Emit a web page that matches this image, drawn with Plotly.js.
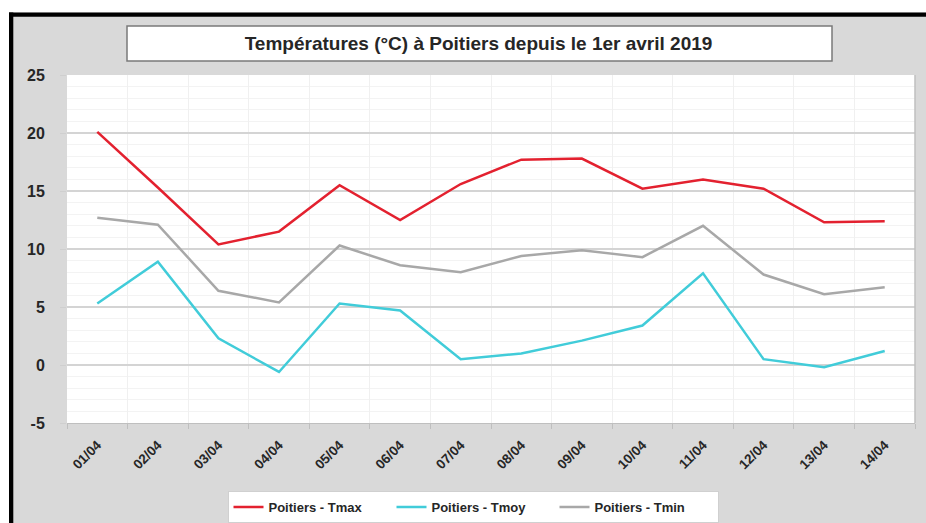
<!DOCTYPE html>
<html>
<head>
<meta charset="utf-8">
<script src="https://cdn.plot.ly/plotly-3.0.1.min.js"></script>
<style>html,body{margin:0;padding:0;background:#fff;}#chart{width:926px;height:523px;}</style>
</head>
<body>
<div id="chart"></div>
<script>
const dates = ['01/04','02/04','03/04','04/04','05/04','06/04','07/04','08/04','09/04','10/04','11/04','12/04','13/04','14/04'];
const tmax = [20.1, 15.3, 10.4, 11.5, 15.5, 12.5, 15.6, 17.7, 17.8, 15.2, 16.0, 15.2, 12.3, 12.4];
const tmoy = [5.3, 8.9, 2.3, -0.6, 5.3, 4.7, 0.5, 1.0, 2.1, 3.4, 7.9, 0.5, -0.2, 1.2];
const tmin = [12.7, 12.1, 6.4, 5.4, 10.3, 8.6, 8.0, 9.4, 9.9, 9.3, 12.0, 7.8, 6.1, 6.7];
const seriesNames = ['Poitiers - Tmax', 'Poitiers - Tmoy', 'Poitiers - Tmin'];
const yTickVals = [-5, 0, 5, 10, 15, 20, 25];
const yTickText = ['-5', '0', '5', '10', '15', '20', '25'];
const titleText = 'Températures (°C) à Poitiers depuis le 1er avril 2019';

const W = 926, H = 523, L = 67, R = 11, T = 75, B = 100;
const pw = W - L - R, ph = H - T - B;
const px = v => (v - L) / pw;
const py = v => (H - B - v) / ph;

const font = 'Liberation Sans, Arial, sans-serif';
const traces = [
  {x: dates, y: tmax, name: seriesNames[0], type: 'scatter', mode: 'lines', line: {color: '#e3212f', width: 2.5}},
  {x: dates, y: tmoy, name: seriesNames[1], type: 'scatter', mode: 'lines', line: {color: '#41ccd9', width: 2.5}},
  {x: dates, y: tmin, name: seriesNames[2], type: 'scatter', mode: 'lines', line: {color: '#a8a8a8', width: 2.5}}
];

const layout = {
  width: W, height: H,
  margin: {l: L, r: R, t: T, b: B, autoexpand: false},
  paper_bgcolor: '#d9d9d9',
  plot_bgcolor: '#ffffff',
  font: {family: font, color: '#262626'},
  showlegend: true,
  title: {
    text: '<b>' + titleText + '</b>',
    font: {family: font, size: 19, color: '#262626'},
    xref: 'container', yref: 'container',
    x: 478.5 / W, y: 1 - 43.5 / H, xanchor: 'center', yanchor: 'middle'
  },
  xaxis: {
    type: 'category',
    range: [-0.5, dates.length - 0.5],
    tickson: 'boundaries',
    ticks: 'outside', ticklen: 5, tickcolor: '#bfbfbf',
    ticklabelstandoff: 8,
    showgrid: true, gridcolor: '#f0f0f0', gridwidth: 1,
    showline: true, linecolor: '#bfbfbf', linewidth: 1,
    tickangle: -45,
    tickfont: {family: font, size: 13.5, color: '#262626', weight: 'bold'},
    fixedrange: true, zeroline: false
  },
  yaxis: {
    range: [-5, 25],
    tickmode: 'array', tickvals: yTickVals, ticktext: yTickText,
    ticks: 'outside', ticklen: 6, tickcolor: '#cfcfcf',
    ticklabelstandoff: 12,
    showgrid: true, gridcolor: '#d4d4d4', gridwidth: 1.2,
    zeroline: false,
    showline: false,
    minor: {dtick: 1, tick0: 0, showgrid: true, gridcolor: '#f3f3f3', gridwidth: 1},
    tickfont: {family: font, size: 16, color: '#262626', weight: 'bold'},
    fixedrange: true
  },
  legend: {
    orientation: 'h',
    x: px(473), xanchor: 'center',
    y: py(491), yanchor: 'top',
    bgcolor: '#ffffff', bordercolor: '#d0d0d0', borderwidth: 1,
    font: {family: font, size: 13, color: '#262626', weight: 'bold'},
    entrywidth: 118, entrywidthmode: 'pixels',
    itemwidth: 30, tracegroupgap: 0
  },
  shapes: [
    {type: 'rect', xref: 'paper', yref: 'paper', x0: px(-5), x1: px(W + 5), y0: py(12.5), y1: py(-5), fillcolor: '#ffffff', line: {width: 0}, layer: 'above'},
    {type: 'rect', xref: 'paper', yref: 'paper', x0: px(-5), x1: px(9), y0: py(H + 5), y1: py(-5), fillcolor: '#ffffff', line: {width: 0}, layer: 'above'},
    {type: 'rect', xref: 'paper', yref: 'paper', x0: px(9), x1: px(W + 5), y0: py(16.7), y1: py(12.5), fillcolor: '#000000', line: {width: 0}, layer: 'above'},
    {type: 'rect', xref: 'paper', yref: 'paper', x0: px(9), x1: px(13.3), y0: py(H + 5), y1: py(12.5), fillcolor: '#000000', line: {width: 0}, layer: 'above'},
    {type: 'line', xref: 'paper', yref: 'paper', x0: 1, x1: 1, y0: 0, y1: 1, line: {color: '#bfbfbf', width: 1.5}, layer: 'above'},
    {type: 'rect', xref: 'paper', yref: 'paper', x0: px(127), x1: px(832), y0: py(61), y1: py(26), fillcolor: '#ffffff', line: {color: '#7a7a7a', width: 1.5}, layer: 'above'}
  ]
};

Plotly.newPlot('chart', traces, layout, {displayModeBar: false, staticPlot: true});
</script>
</body>
</html>
